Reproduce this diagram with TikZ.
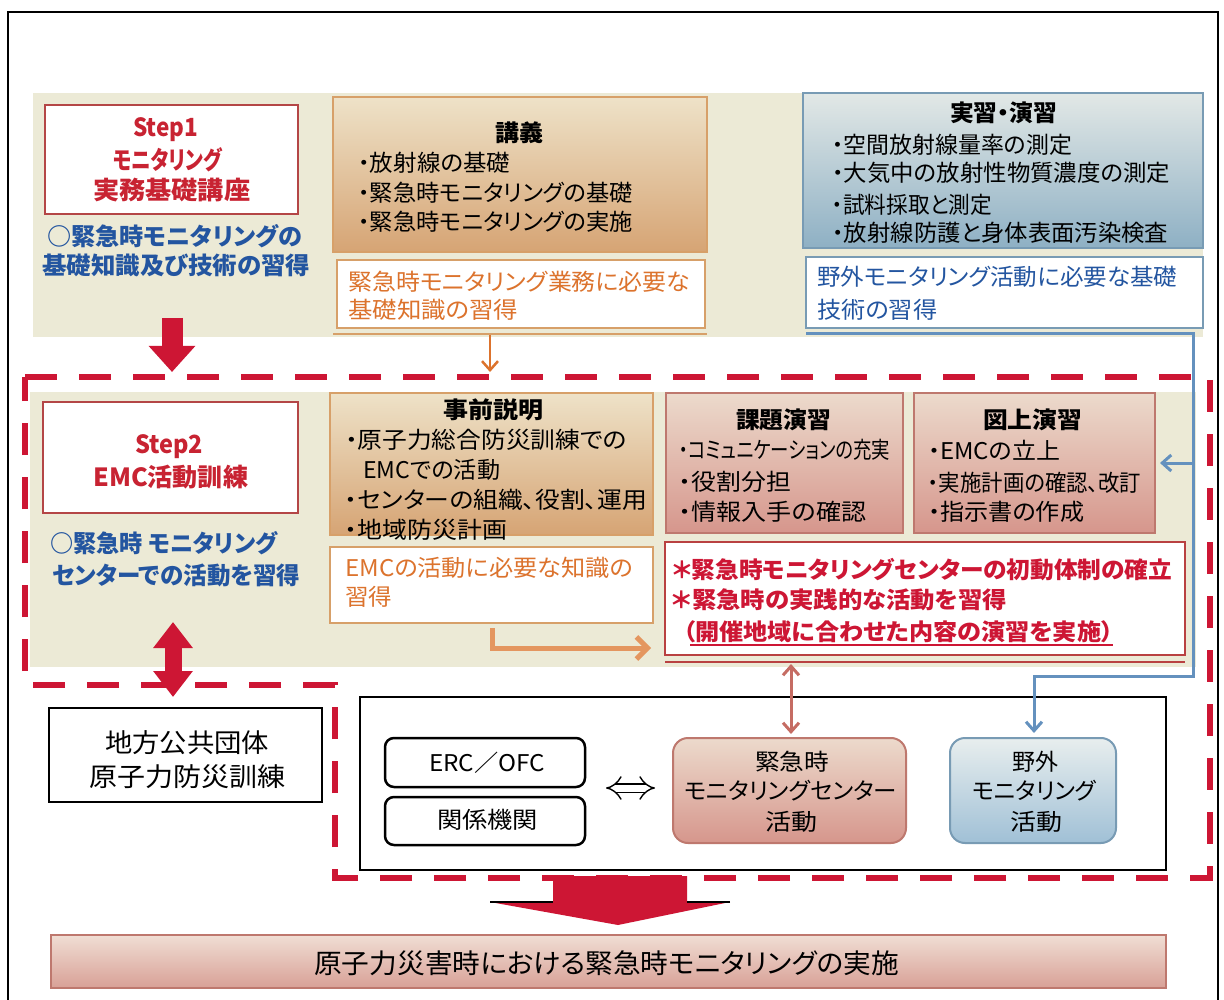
\documentclass[tikz,border=0pt]{standalone}
\usepackage{fontspec}
\setmainfont{Noto Sans CJK JP}[RawFeature=+palt]
\usepackage{graphicx}
\usetikzlibrary{arrows.meta}
\definecolor{cred}{RGB}{205,22,52}
\definecolor{stepred}{RGB}{200,35,50}
\definecolor{boxred}{RGB}{180,70,70}
\definecolor{cblue}{RGB}{35,85,160}
\definecolor{corange}{RGB}{220,115,45}
\definecolor{lorange}{RGB}{228,150,95}
\definecolor{beige}{RGB}{236,234,214}
\definecolor{lectop}{RGB}{238,226,200}
\definecolor{lecbot}{RGB}{214,164,116}
\definecolor{lecline}{RGB}{215,160,105}
\definecolor{prtop}{RGB}{226,232,230}
\definecolor{prbot}{RGB}{142,176,196}
\definecolor{prline}{RGB}{120,155,180}
\definecolor{pktop}{RGB}{236,218,204}
\definecolor{pkbot}{RGB}{214,150,140}
\definecolor{pkline}{RGB}{190,120,110}
\definecolor{lineblue}{RGB}{100,145,190}
\definecolor{darkred}{RGB}{185,65,65}
\definecolor{fbtop}{RGB}{232,238,238}
\definecolor{fbbot}{RGB}{160,192,214}
\definecolor{bartop}{RGB}{240,222,212}
\definecolor{barbot}{RGB}{216,160,150}
\newcommand\tl[6]{\node[tx,#1] (#2) at (#3,#4) {\resizebox{#5pt}{\height}{#6}};}
\begin{document}
\begin{tikzpicture}[x=1pt,y=-1pt,
  tx/.style={inner sep=0pt, anchor=west, font=\fontsize{23}{28}\selectfont},
  bx/.style={inner sep=0pt, line width=2pt},
  lecbox/.style={bx, draw=lecline, top color=lectop, bottom color=lecbot},
  prbox/.style={bx, draw=prline, top color=prtop, bottom color=prbot},
  pkbox/.style={bx, draw=pkline, top color=pktop, bottom color=pkbot},
  stepbox/.style={bx, draw=boxred, fill=white, line width=2.5pt},
  resbox/.style={bx, fill=white, line width=2.5pt},
  rbox/.style={bx, draw=black, fill=white, rounded corners=9pt, line width=2.5pt},
  bigarrow/.style={line width=21pt, cred, -{Triangle[width=45pt,length=26pt]}},
  reddash/.style={cred, line width=6pt, dash pattern=on 32pt off 22pt},
]
\useasboundingbox (0,0) rectangle (1224,1000);
\fill[white] (0,0) rectangle (1224,1000);
\draw[line width=1.5pt] (8,1010) -- (8,12) -- (1218,12) -- (1218,1010);
% background bands
\fill[beige] (33,93) rectangle (1203,337);
\fill[beige] (30,392) rectangle (1196,667);
% ---- Step 1 row ----
\node[stepbox, minimum width=253pt, minimum height=109pt] (step1) at (171.5,159.5) {};
\tl{text=stepred,font=\fontsize{25}{28}\selectfont\bfseries}{s1a}{133}{130}{65}{Step1}
\tl{text=stepred,font=\fontsize{25}{28}\selectfont\bfseries}{s1b}{113}{160}{109}{モニタリング}
\tl{text=stepred,font=\fontsize{25}{28}\selectfont\bfseries}{s1c}{93}{190}{157}{実務基礎講座}
\tl{text=cblue,font=\fontsize{24}{28}\selectfont\bfseries}{b1a}{47}{236}{255}{○緊急時モニタリングの}
\tl{text=cblue,font=\fontsize{24}{28}\selectfont\bfseries}{b1b}{42}{265}{268}{基礎知識及び技術の習得}

\node[lecbox, minimum width=374pt, minimum height=155pt] (lec) at (520,174.5) {};
\tl{font=\fontsize{23}{28}\selectfont\bfseries}{l0}{495}{133}{48}{講義}
\tl{}{l1}{358}{163}{152}{・放射線の基礎}
\tl{}{l2}{358}{193}{275}{・緊急時モニタリングの基礎}
\tl{}{l3}{358}{222}{275}{・緊急時モニタリングの実施}
\draw[lecline, line width=2.5pt] (333,334) -- (707,334);
\node[resbox, draw=lecline, minimum width=368pt, minimum height=68pt] (lecres) at (521,294) {};
\tl{text=corange}{o1a}{348}{282}{342}{緊急時モニタリング業務に必要な}
\tl{text=corange}{o1b}{348}{310}{170}{基礎知識の習得}

\node[prbox, minimum width=400pt, minimum height=155pt] (prac) at (1003,170.5) {};
\tl{font=\fontsize{23}{28}\selectfont\bfseries}{p0}{950}{113}{107}{実習・演習}
\tl{}{p1}{832}{145}{240}{・空間放射線量率の測定}
\tl{}{p2}{832}{173}{338}{・大気中の放射性物質濃度の測定}
\tl{}{p3}{832}{205}{160}{・試料採取と測定}
\tl{}{p4}{832}{233}{336}{・放射線防護と身体表面汚染検査}
\node[resbox, draw=prline, minimum width=397pt, minimum height=71pt] (pracres) at (1004.5,292.5) {};
\tl{text=cblue}{b2a}{817}{277}{360}{野外モニタリング活動に必要な基礎}
\tl{text=cblue}{b2b}{817}{310}{120}{技術の習得}

% ---- Step 2 row ----
\node[stepbox, minimum width=255pt, minimum height=111pt] (step2) at (170.5,457.5) {};
\tl{text=stepred,font=\fontsize{25}{28}\selectfont\bfseries}{s2a}{135}{447}{68}{Step2}
\tl{text=stepred,font=\fontsize{25}{28}\selectfont\bfseries}{s2b}{93}{477}{155}{EMC活動訓練}
\tl{text=cblue,font=\fontsize{24}{28}\selectfont\bfseries}{b3a}{50}{543}{227}{○緊急時 モニタリング}
\tl{text=cblue,font=\fontsize{24}{28}\selectfont\bfseries}{b3b}{52}{575}{248}{センターでの活動を習得}

\node[lecbox, minimum width=323pt, minimum height=142pt] (pre) at (491.5,464) {};
\tl{font=\fontsize{23}{28}\selectfont\bfseries}{e0}{443}{410}{100}{事前説明}
\tl{}{e1}{345}{440}{282}{・原子力総合防災訓練での}
\tl{}{e2}{363}{470}{137}{EMCでの活動}
\tl{}{e3}{345}{500}{302}{・センターの組織、役割、運用}
\tl{}{e4}{345}{530}{162}{・地域防災計画}
\node[resbox, draw=lecline, minimum width=323pt, minimum height=76pt] (preres) at (491.5,585) {};
\tl{text=corange}{o2a}{345}{568}{288}{EMCの活動に必要な知識の}
\tl{text=corange}{o2b}{345}{597}{47}{習得}

\node[pkbox, minimum width=237pt, minimum height=140pt] (kadai) at (784.5,463) {};
\tl{font=\fontsize{23}{28}\selectfont\bfseries}{k0}{736}{420}{95}{課題演習}
\tl{}{k1}{679}{450}{211}{・コミュニケーションの充実}
\tl{}{k2}{679}{482}{112}{・役割分担}
\tl{}{k3}{679}{512}{187}{・情報入手の確認}

\node[pkbox, minimum width=241pt, minimum height=140pt] (zujo) at (1034.5,463) {};
\tl{font=\fontsize{23}{28}\selectfont\bfseries}{z0}{983}{420}{99}{図上演習}
\tl{}{z1}{928}{450}{132}{・EMCの立上}
\tl{}{z2}{928}{483}{213}{・実施計画の確認、改訂}
\tl{}{z3}{928}{512}{156}{・指示書の作成}

\draw[darkred, line width=2.5pt] (665,662) -- (1185,662);
\node[resbox, draw=darkred, minimum width=520pt, minimum height=113pt] (goal) at (925,598.5) {};
\tl{text=cred,font=\fontsize{23}{28}\selectfont\bfseries}{g1}{672}{570}{500}{＊緊急時モニタリングセンターの初動体制の確立}
\tl{text=cred,font=\fontsize{23}{28}\selectfont\bfseries}{g2}{672}{600}{335}{＊緊急時の実践的な活動を習得}
\tl{text=cred,font=\fontsize{23}{28}\selectfont\bfseries}{g3}{683}{632}{430}{（開催地域に合わせた内容の演習を実施）}
\draw[cred, line width=1.5pt] (690,645) -- (1113,645);

% ---- bottom row ----
\node[bx, draw=black, fill=white, line width=2.5pt, minimum width=273pt, minimum height=94pt] (local) at (185.5,755) {};
\tl{font=\fontsize{26}{28}\selectfont}{lo1}{105}{743}{164}{地方公共団体}
\tl{font=\fontsize{26}{28}\selectfont}{lo2}{89}{777}{196}{原子力防災訓練}

\node[bx, draw=black, line width=2.5pt, minimum width=806pt, minimum height=173pt] (sys) at (763,783.5) {};
\node[rbox, minimum width=200pt, minimum height=49pt] (erc) at (485,762.5) {};
\tl{}{tERC}{429}{763}{116}{ERC／OFC}
\node[rbox, minimum width=200pt, minimum height=48pt] (kankei) at (485,821) {};
\tl{}{tKK}{437}{820}{101}{関係機関}

\node[bx, draw=pkline, top color=pktop, bottom color=pkbot, rounded corners=15pt, minimum width=233pt, minimum height=105pt] (emc) at (789.5,790.5) {};
\tl{}{m1}{755}{762}{74}{緊急時}
\tl{}{m2}{684}{791}{213}{モニタリングセンター}
\tl{}{m3}{765}{822}{52}{活動}
\node[bx, draw=prline, top color=fbtop, bottom color=fbbot, rounded corners=15pt, minimum width=166pt, minimum height=105pt] (field) at (1033,790.5) {};
\tl{}{f1}{1012}{762}{46}{野外}
\tl{}{f2}{972}{791}{124}{モニタリング}
\tl{}{f3}{1010}{822}{52}{活動}

\node[bx, draw=pkline, top color=bartop, bottom color=barbot, minimum width=1115pt, minimum height=53pt] (bar) at (608.5,961.5) {};
\tl{font=\fontsize{27}{28}\selectfont}{tbar}{314}{963}{585}{原子力災害時における緊急時モニタリングの実施}

% ---- connectors ----
\coordinate (a1s) at (172,318); \coordinate (a1e) at (172,372);
\draw[bigarrow] (a1s) -- (a1e);
\coordinate (a2s) at (173,622); \coordinate (a2e) at (173,697);
\draw[line width=17pt, cred, {Triangle[width=38pt,length=26pt]}-{Triangle[width=38pt,length=26pt]}] (a2s) -- (a2e);

\coordinate (o1s) at (490,335); \coordinate (o1e) at (490,372);
\draw[corange, line width=2.5pt, -{Straight Barb[length=9pt,width=16pt]}] (o1s) -- (o1e);
\coordinate (o2s) at (492,628); \coordinate (o2c) at (492,648); \coordinate (o2e) at (651,648);
\draw[lorange, line width=5pt, -{Straight Barb[length=11pt,width=22pt]}] (o2s) -- (o2c) -- (o2e);

\coordinate (bl0) at (806,334); \coordinate (bl1) at (1193,334); \coordinate (bl2) at (1193,676);
\coordinate (bl3) at (1034,676); \coordinate (bl4) at (1034,733);
\draw[lineblue, line width=3pt, -{Straight Barb[length=9pt,width=16pt]}] (bl0) -- (bl1) -- (bl2) -- (bl3) -- (bl4);
\coordinate (bb0) at (1193,463); \coordinate (bb1) at (1160,463);
\draw[lineblue, line width=3pt, -{Straight Barb[length=9pt,width=16pt]}] (bb0) -- (bb1);

\coordinate (r1s) at (791,664); \coordinate (r1e) at (791,734);
\draw[pkline!90!red, line width=3pt, {Straight Barb[length=9pt,width=16pt]}-{Straight Barb[length=9pt,width=16pt]}] (r1s) -- (r1e);

\coordinate (dx0) at (606,788); \coordinate (dx1) at (655,788);
\draw[black, line width=1.4pt, double=white, double distance=7pt, {Implies}-{Implies}] (dx0) -- (dx1);

% red dashed boundary of step 2
\draw[reddash] (25,377) -- (1210,377) -- (1210,878) -- (335,878) -- (335,685) -- (25,685) -- cycle;

% big bottom arrow
\fill[cred] (553,876) -- (687,876) -- (687,902) -- (730,902) -- (618,925) -- (490,902) -- (553,902) -- cycle;
\draw[black, line width=1.2pt] (490,902) -- (553,902) (687,902) -- (730,902);
\end{tikzpicture}
\end{document}
